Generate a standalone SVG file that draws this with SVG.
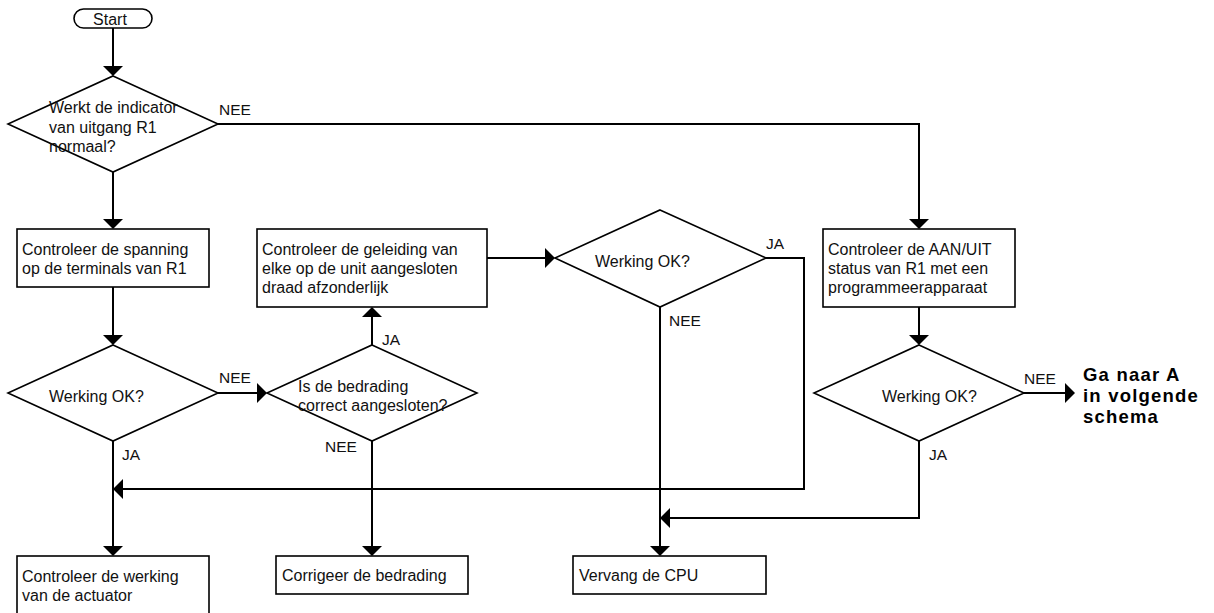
<svg xmlns="http://www.w3.org/2000/svg" width="1214" height="613" viewBox="0 0 1214 613">
<style>
.shape{fill:#fff;stroke:#000;stroke-width:1.6}
.t{font-family:"Liberation Sans",Arial,sans-serif;font-size:16px;fill:#111}
.lbl{font-family:"Liberation Sans",Arial,sans-serif;font-size:15.5px;fill:#111}
.big{font-family:"Liberation Sans",Arial,sans-serif;font-size:18.5px;font-weight:bold;letter-spacing:1.2px;fill:#000}
.c{fill:none;stroke:#000;stroke-width:2;marker-end:url(#ah)}
</style>
<defs>
<marker id="ah" markerUnits="userSpaceOnUse" viewBox="0 0 10 20" refX="0" refY="10" markerWidth="10" markerHeight="20" orient="auto">
<path d="M0,0 L10,10 L0,20 z" fill="#000"/>
</marker>
</defs>
<rect width="1214" height="613" fill="#fff"/>
<g id="connectors">
<path class="c" d="M113,28 V66"/>
<path class="c" d="M218,124 H919 V219"/>
<path class="c" d="M113,172 V219"/>
<path class="c" d="M113,287 V335"/>
<path class="c" d="M218,393 H257"/>
<path class="c" d="M372,345 V317"/>
<path class="c" d="M487,258 H545"/>
<path class="c" d="M766,258 H804 V489 H123"/>
<path class="c" d="M660,307 V546"/>
<path class="c" d="M919,307 V335"/>
<path class="c" d="M1024,393 H1065"/>
<path class="c" d="M919,441 V518 H670"/>
<path class="c" d="M113,441 V546"/>
<path class="c" d="M372,441 V546"/>
<text class="lbl" x="219" y="115">NEE</text>
<text class="lbl" x="219" y="383">NEE</text>
<text class="lbl" x="382" y="345">JA</text>
<text class="lbl" x="766" y="249">JA</text>
<text class="lbl" x="669" y="326">NEE</text>
<text class="lbl" x="1024" y="384">NEE</text>
<text class="lbl" x="122" y="460">JA</text>
<text class="lbl" x="325" y="452">NEE</text>
<text class="lbl" x="929" y="460">JA</text>
</g>
<g id="start">
<rect class="shape" x="74" y="9" width="78" height="19" rx="9.5"/>
<text class="t" x="110" y="24.5" text-anchor="middle">Start</text>
</g>
<g id="d1">
<polygon class="shape" points="113,76 218,124 113,172 8,124"/>
<text class="t" x="49" y="113">Werkt de indicator</text>
<text class="t" x="49" y="132.5">van uitgang R1</text>
<text class="t" x="49" y="152">normaal?</text>
</g>
<g id="b1">
<rect class="shape" x="17" y="229" width="192" height="58"/>
<text class="t" x="22" y="255">Controleer de spanning</text>
<text class="t" x="22" y="274">op de terminals van R1</text>
</g>
<g id="d2">
<polygon class="shape" points="113,345 218,393 113,441 8,393"/>
<text class="t" x="49" y="401.5">Werking OK?</text>
</g>
<g id="d3">
<polygon class="shape" points="372,345 477,393 372,441 267,393"/>
<text class="t" x="298" y="392">Is de bedrading</text>
<text class="t" x="298" y="411">correct aangesloten?</text>
</g>
<g id="b2">
<rect class="shape" x="257" y="229" width="230" height="78"/>
<text class="t" x="262" y="255">Controleer de geleiding van</text>
<text class="t" x="262" y="274">elke op de unit aangesloten</text>
<text class="t" x="262" y="293">draad afzonderlijk</text>
</g>
<g id="d4">
<polygon class="shape" points="660,210 766,258 660,307 555,258"/>
<text class="t" x="595" y="266.5">Werking OK?</text>
</g>
<g id="b3">
<rect class="shape" x="823" y="229" width="192" height="78"/>
<text class="t" x="828" y="255">Controleer de AAN/UIT</text>
<text class="t" x="828" y="274">status van R1 met een</text>
<text class="t" x="828" y="293">programmeerapparaat</text>
</g>
<g id="d5">
<polygon class="shape" points="919,345 1024,393 919,441 814,393"/>
<text class="t" x="882" y="401.5">Werking OK?</text>
</g>
<g id="goto">
<text class="big" x="1083" y="381">Ga naar A</text>
<text class="big" x="1083" y="401.8">in volgende</text>
<text class="big" x="1083" y="422.6">schema</text>
</g>
<g id="b4">
<rect class="shape" x="17" y="556" width="192" height="70"/>
<text class="t" x="22" y="581.5">Controleer de werking</text>
<text class="t" x="22" y="600.5">van de actuator</text>
</g>
<g id="b5">
<rect class="shape" x="276" y="556" width="192" height="38"/>
<text class="t" x="282" y="581">Corrigeer de bedrading</text>
</g>
<g id="b6">
<rect class="shape" x="573" y="556" width="193" height="38"/>
<text class="t" x="579" y="581">Vervang de CPU</text>
</g>
</svg>
